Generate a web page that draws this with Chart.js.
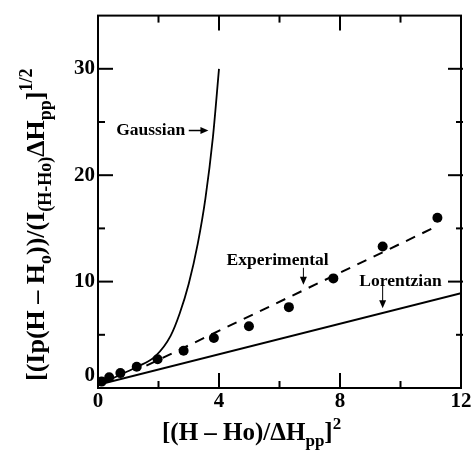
<!DOCTYPE html>
<html>
<head>
<meta charset="utf-8">
<script src="https://cdn.jsdelivr.net/npm/chart.js@4.4.1/dist/chart.umd.min.js"></script>
<style>
  html, body { margin: 0; padding: 0; background: #fff; }
  #wrap { width: 474px; height: 450px; }
</style>
</head>
<body>
<div id="wrap"><canvas id="plot"></canvas></div>
<script>
// measured points and the three reference curves
const expX = [0.12, 0.37, 0.74, 1.28, 1.97, 2.83, 3.83, 4.99, 6.31, 7.78, 9.41, 11.22];
const expY = [0.6, 1.0, 1.4, 2.0, 2.7, 3.5, 4.7, 5.8, 7.6, 10.3, 13.3, 16.0];
const fitX = [1.6, 11.2];
const fitY = [2.1, 15.2];
const gaussX = [0.2, 0.7, 1.3, 1.9, 2.4, 2.7, 3.0, 3.3, 3.55, 3.8, 4.0];
const gaussY = [0.5, 1.2, 2.0, 3.0, 4.9, 7.0, 9.8, 13.6, 17.8, 23.6, 30.0];
const lorX = [0, 12];
const lorY = [0.3, 8.9];

const xMajor = [4, 8];
const xMinor = [2, 6, 10];
const yMajor = [10, 20, 30];
const yMinor = [5, 15, 25];

const serif = '"Liberation Serif", "Times New Roman", serif';

function pts(xs, ys) {
  return xs.map(function (x, i) { return { x: x, y: ys[i] }; });
}

function seg(ctx, x1, y1, x2, y2) {
  ctx.beginPath();
  ctx.moveTo(x1, y1);
  ctx.lineTo(x2, y2);
  ctx.stroke();
}

function arrow(ctx, x1, y1, x2, y2, w) {
  const ang = Math.atan2(y2 - y1, x2 - x1);
  const hl = 8, hw = 3.5;
  ctx.lineWidth = w;
  seg(ctx, x1, y1, x2 - Math.cos(ang) * hl * 0.8, y2 - Math.sin(ang) * hl * 0.8);
  ctx.beginPath();
  ctx.moveTo(x2, y2);
  ctx.lineTo(x2 - Math.cos(ang) * hl - Math.sin(ang) * hw, y2 - Math.sin(ang) * hl + Math.cos(ang) * hw);
  ctx.lineTo(x2 - Math.cos(ang) * hl + Math.sin(ang) * hw, y2 - Math.sin(ang) * hl - Math.cos(ang) * hw);
  ctx.closePath();
  ctx.fill();
}

// text with sub- and superscript pieces: [text, 'n' | 'sub' | 'sup']
function rich(ctx, parts, x, y, big, small) {
  let cx = x;
  parts.forEach(function (p) {
    ctx.font = 'bold ' + (p[1] === 'n' ? big : small) + 'px ' + serif;
    const dy = p[1] === 'sub' ? big * 0.25 : p[1] === 'sup' ? -big * 0.45 : 0;
    ctx.fillText(p[0], cx, y + dy);
    cx += ctx.measureText(p[0]).width;
  });
}

const frame = {
  id: 'frame',
  afterDraw(chart) {
    const ctx = chart.ctx;
    const a = chart.chartArea;
    const x = chart.scales.x, y = chart.scales.y;
    ctx.save();
    ctx.strokeStyle = '#000';
    ctx.fillStyle = '#000';
    ctx.lineWidth = 2;
    ctx.strokeRect(a.left, a.top, a.right - a.left, a.bottom - a.top);

    xMajor.concat(xMinor).forEach(function (v) {
      const px = x.getPixelForValue(v);
      const len = xMajor.indexOf(v) >= 0 ? 15 : 7;
      seg(ctx, px, a.bottom, px, a.bottom - len);
      seg(ctx, px, a.top, px, a.top + len);
    });
    yMajor.concat(yMinor).forEach(function (v) {
      const py = y.getPixelForValue(v);
      const len = yMajor.indexOf(v) >= 0 ? 15 : 7;
      seg(ctx, a.left, py, a.left + len, py);
      seg(ctx, a.right + 2, py, a.right - len + 2, py);
    });

    // curve labels
    ctx.textBaseline = 'middle';
    ctx.font = 'bold 17.5px ' + serif;
    ctx.fillText('Gaussian', x.getPixelForValue(0.6), y.getPixelForValue(24.2));
    arrow(ctx, x.getPixelForValue(3.0), y.getPixelForValue(24.2), x.getPixelForValue(3.65), y.getPixelForValue(24.2), 1.5);
    ctx.fillText('Experimental', x.getPixelForValue(4.25), y.getPixelForValue(12.0));
    arrow(ctx, x.getPixelForValue(6.79), y.getPixelForValue(11.3), x.getPixelForValue(6.79), y.getPixelForValue(9.7), 1);
    ctx.fillText('Lorentzian', x.getPixelForValue(8.64), y.getPixelForValue(10.0));
    arrow(ctx, x.getPixelForValue(9.41), y.getPixelForValue(9.6), x.getPixelForValue(9.41), y.getPixelForValue(7.5), 1);

    // axis titles
    ctx.textBaseline = 'alphabetic';
    rich(ctx, [['[(H \u2013 Ho)/\u0394H', 'n'], ['pp', 'sub'], [']', 'n'], ['2', 'sup']], 162, 440, 25, 17);

    ctx.translate(44, 381);
    ctx.rotate(-Math.PI / 2);
    rich(ctx, [
      ['[(Ip(H \u2013 H', 'n'], ['o', 'sub'], ['))/(I', 'n'], ['(H-Ho)', 'sub'],
      ['\u0394H', 'n'], ['pp', 'sub'], [']', 'n'], ['1/2', 'sup']
    ], 0, 0, 26, 18);
    ctx.restore();
  }
};

const tickFont = { family: serif, size: 21, weight: 'bold' };

new Chart(document.getElementById('plot'), {
  type: 'scatter',
  data: {
    datasets: [
      { label: 'Experimental', data: pts(expX, expY), pointRadius: 5, pointBackgroundColor: '#000', pointBorderWidth: 0 },
      { label: 'Experimental fit', data: pts(fitX, fitY), showLine: true, borderColor: '#000', borderWidth: 2, borderDash: [10, 8], pointRadius: 0 },
      { label: 'Gaussian', data: pts(gaussX, gaussY), showLine: true, borderColor: '#000', borderWidth: 1.8, cubicInterpolationMode: 'monotone', pointRadius: 0 },
      { label: 'Lorentzian', data: pts(lorX, lorY), showLine: true, borderColor: '#000', borderWidth: 2, pointRadius: 0 },
    ],
  },
  options: {
    responsive: true,
    maintainAspectRatio: false,
    animation: false,
    events: [],
    layout: { padding: { top: 11, right: 13, left: 0, bottom: 0 } },
    plugins: { legend: { display: false }, tooltip: { enabled: false } },
    scales: {
      x: {
        type: 'linear', min: 0, max: 12,
        grid: { display: false, drawTicks: false, tickLength: 0 },
        border: { display: false },
        ticks: { stepSize: 4, includeBounds: false, color: '#000', font: tickFont, padding: 1, maxRotation: 0 },
        afterFit: function (s) { s.height = 62; },
      },
      y: {
        type: 'linear', min: 0, max: 35,
        grid: { display: false, drawTicks: false, tickLength: 0 },
        border: { display: false },
        ticks: {
          stepSize: 10, includeBounds: false, color: '#000', font: tickFont, padding: 3,
          callback: function (v) { return v === 0 ? ['0', ''] : String(v); },
        },
        afterFit: function (s) { s.width = 98; },
      },
    },
  },
  plugins: [frame],
});
</script>
</body>
</html>
